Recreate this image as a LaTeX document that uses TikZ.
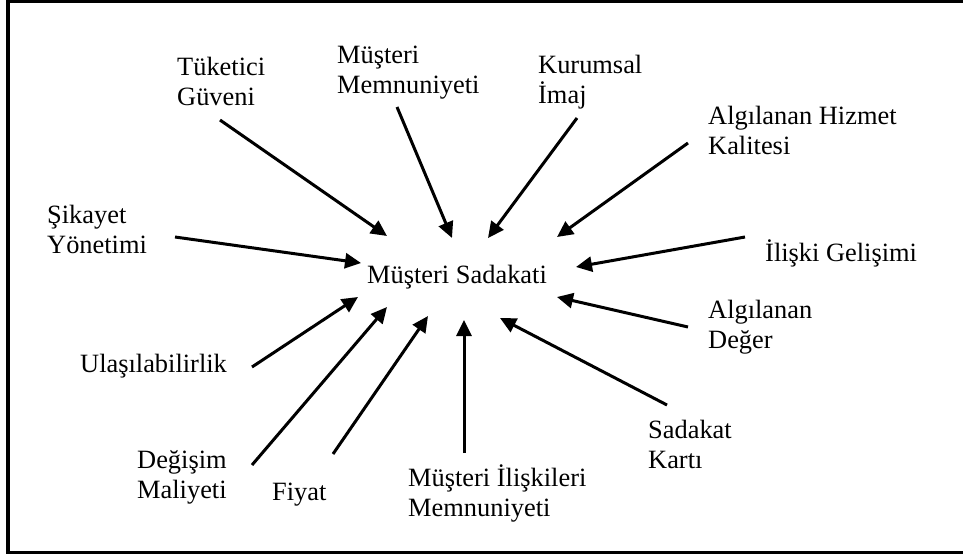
\documentclass[tikz,border=0pt]{standalone}
\usepackage{fontspec}
\setmainfont{Liberation Serif}
\usetikzlibrary{arrows.meta}
\begin{document}
\begin{tikzpicture}[x=1pt,y=-1pt,
  lbl/.style={anchor=base west,inner sep=0pt,align=left,
    font=\fontsize{26.4}{29.5}\selectfont},
  arr/.style={line width=3pt,-{Triangle[length=16pt,width=15pt]}},
  frame/.style={line width=3.6pt}]
\useasboundingbox (0,0) rectangle (963,557);
% outer frame (right side runs off the page)
\draw[frame] (980,1.6) -- (8,1.6) -- (8,552.4) -- (980,552.4);

% central concept
\node[lbl] (ms) at (367,283) {Müşteri Sadakati};

% factors (positions give the baseline of the last line)
\node[lbl] (tuk) at (177,105) {Tüketici\\Güveni};
\node[lbl] (mem) at (337,93)  {Müşteri\\Memnuniyeti};
\node[lbl] (kur) at (538,103) {Kurumsal\\İmaj};
\node[lbl] (ahk) at (708,154) {Algılanan Hizmet\\Kalitesi};
\node[lbl] (ilg) at (765,261) {İlişki Gelişimi};
\node[lbl] (sik) at (47,253)  {Şikayet\\Yönetimi};
\node[lbl] (ula) at (80,372)  {Ulaşılabilirlik};
\node[lbl] (deg) at (137,498) {Değişim\\Maliyeti};
\node[lbl] (fiy) at (272,500) {Fiyat};
\node[lbl] (mil) at (408,516) {Müşteri İlişkileri\\Memnuniyeti};
\node[lbl] (ade) at (708,348) {Algılanan\\Değer};
\node[lbl] (sak) at (648,468) {Sadakat\\Kartı};

% arrow ends
\coordinate (tuk-s) at (220,120); \coordinate (tuk-t) at (387,236);
\coordinate (mem-s) at (397,107); \coordinate (mem-t) at (452,238);
\coordinate (kur-s) at (577,118); \coordinate (kur-t) at (488,238);
\coordinate (ahk-s) at (688,143); \coordinate (ahk-t) at (557,237);
\coordinate (ilg-s) at (745,237); \coordinate (ilg-t) at (576,267);
\coordinate (sik-s) at (175,237); \coordinate (sik-t) at (361,263);
\coordinate (ula-s) at (252,367); \coordinate (ula-t) at (358,297);
\coordinate (deg-s) at (252,465); \coordinate (deg-t) at (387,307);
\coordinate (fiy-s) at (333,454); \coordinate (fiy-t) at (428,316);
\coordinate (mil-s) at (464,453); \coordinate (mil-t) at (464,320);
\coordinate (ade-s) at (688,327); \coordinate (ade-t) at (557,297);
\coordinate (sak-s) at (667,405); \coordinate (sak-t) at (500,318);

\foreach \k in {tuk,mem,kur,ahk,ilg,sik,ula,deg,fiy,mil,ade,sak}
  \draw[arr] (\k-s) -- (\k-t);
\end{tikzpicture}
\end{document}
